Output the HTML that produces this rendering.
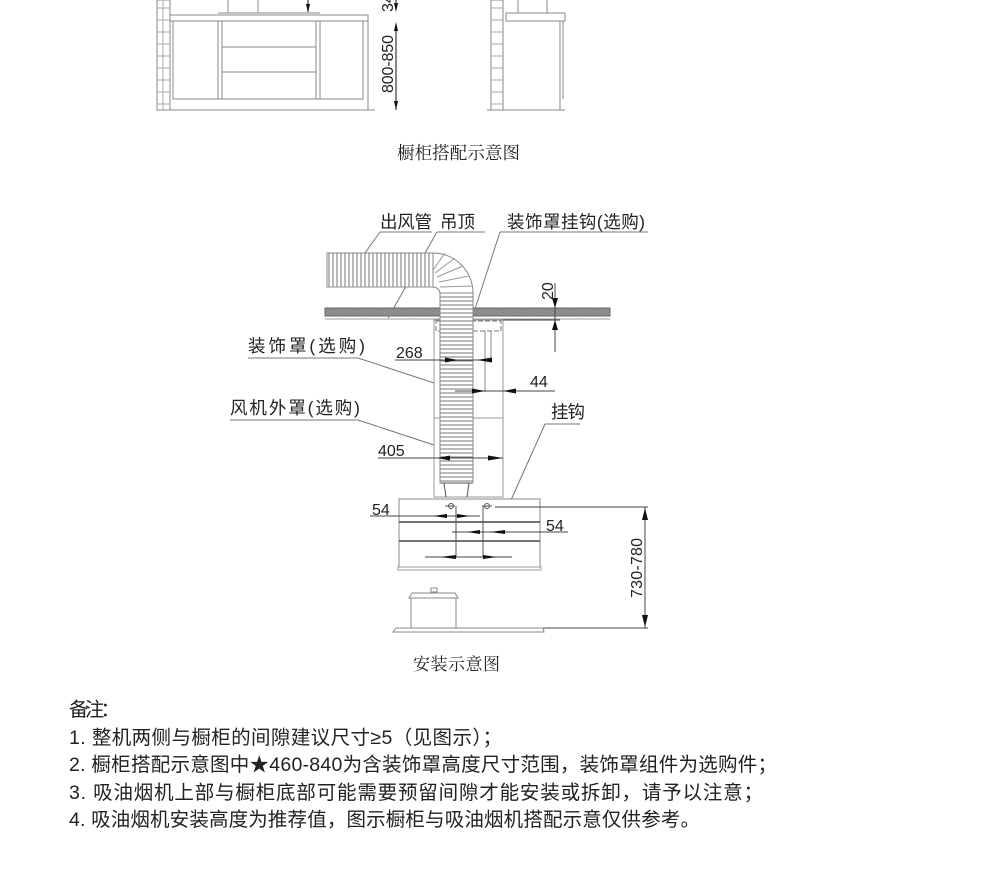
<!DOCTYPE html>
<html><head><meta charset="utf-8"><style>
html,body{margin:0;padding:0;background:#fff;}
svg{display:block;}
text{font-family:"Liberation Sans","Noto Sans CJK SC",sans-serif;fill:#222;}
.s{font-family:"Liberation Serif","Noto Serif CJK SC",serif;}
</style></head><body>
<svg width="1000" height="876" viewBox="0 0 1000 876" xmlns="http://www.w3.org/2000/svg">
<defs>
<pattern id="hv" width="4" height="40" patternUnits="userSpaceOnUse"><rect width="4" height="40" fill="#fff"/><line x1="1" y1="0" x2="1" y2="40" stroke="#777" stroke-width="1"/></pattern>
<pattern id="hh" width="40" height="4" patternUnits="userSpaceOnUse"><rect width="40" height="4" fill="#fff"/><line x1="0" y1="1" x2="40" y2="1" stroke="#777" stroke-width="1"/></pattern>
<pattern id="hatch" width="3" height="3" patternUnits="userSpaceOnUse"><rect width="3" height="3" fill="#999"/><line x1="0" y1="3" x2="3" y2="0" stroke="#666" stroke-width="0.6"/></pattern>
</defs>
<g fill="none" stroke="#888" stroke-width="1">
<rect x="157" y="0" width="13" height="110"/>
<g stroke="#aaa"><line x1="157" y1="8" x2="170" y2="8"/><line x1="157" y1="20" x2="170" y2="20"/><line x1="157" y1="32" x2="170" y2="32"/><line x1="157" y1="44" x2="170" y2="44"/><line x1="157" y1="56" x2="170" y2="56"/><line x1="157" y1="68" x2="170" y2="68"/><line x1="157" y1="80" x2="170" y2="80"/><line x1="157" y1="92" x2="170" y2="92"/><line x1="157" y1="104" x2="170" y2="104"/><line x1="163" y1="0" x2="163" y2="110"/></g>
<rect x="170" y="15" width="198" height="6"/>
<rect x="173" y="21" width="190" height="78"/>
<line x1="218" y1="21" x2="218" y2="99"/><line x1="222" y1="21" x2="222" y2="99"/>
<line x1="316" y1="21" x2="316" y2="99"/><line x1="320" y1="21" x2="320" y2="99"/>
<line x1="222" y1="47" x2="316" y2="47"/><line x1="222" y1="72" x2="316" y2="72"/>
<line x1="157" y1="110" x2="375" y2="110"/><line x1="368" y1="21" x2="368" y2="110"/>
<line x1="228" y1="0" x2="228" y2="13"/><line x1="258" y1="0" x2="258" y2="13"/>
<line x1="218" y1="13" x2="320" y2="13"/>
<rect x="491" y="0" width="12" height="110"/>
<g stroke="#aaa"><line x1="491" y1="8" x2="503" y2="8"/><line x1="491" y1="20" x2="503" y2="20"/><line x1="491" y1="32" x2="503" y2="32"/><line x1="491" y1="44" x2="503" y2="44"/><line x1="491" y1="56" x2="503" y2="56"/><line x1="491" y1="68" x2="503" y2="68"/><line x1="491" y1="80" x2="503" y2="80"/><line x1="491" y1="92" x2="503" y2="92"/><line x1="491" y1="104" x2="503" y2="104"/></g>
<line x1="518" y1="0" x2="518" y2="13"/><line x1="547" y1="0" x2="547" y2="13"/>
<rect x="506" y="13" width="59" height="8"/>
<line x1="560" y1="21" x2="560" y2="110"/><line x1="563" y1="21" x2="563" y2="99"/>
<line x1="487" y1="110" x2="565" y2="110"/>
</g>
<g stroke="#111" stroke-width="1">
<line x1="396" y1="0" x2="396" y2="10"/><line x1="396" y1="24" x2="396" y2="110"/>
<line x1="308" y1="0" x2="308" y2="12"/>
</g>
<g fill="#111">
<polygon points="396,12 394,3 398,3"/><polygon points="396,22 394,31 398,31"/><polygon points="396,110 394,101 398,101"/>
<polygon points="308,13 306,4 310,4"/>
</g>
<text font-size="16" transform="translate(393,93) rotate(-90)" textLength="58">800-850</text>
<text font-size="16" transform="translate(393,12) rotate(-90)">34</text>
<text x="397" y="159" font-size="17.5" class="s" textLength="123">橱柜搭配示意图</text>

<g stroke="#777" stroke-width="1" fill="none">
<line x1="380" y1="232" x2="432" y2="232"/><line x1="437" y1="232" x2="485" y2="232"/><line x1="500" y1="232" x2="648" y2="232"/>
<line x1="380" y1="232" x2="360" y2="260"/>
<line x1="437" y1="232" x2="388" y2="318"/>
<line x1="500" y1="232" x2="474" y2="312"/>
<line x1="248" y1="358" x2="358" y2="358"/><line x1="358" y1="358" x2="434" y2="383"/>
<line x1="230" y1="420" x2="358" y2="420"/><line x1="358" y1="420" x2="434" y2="445"/>
<line x1="545" y1="424" x2="580" y2="424"/><line x1="545" y1="424" x2="511" y2="500"/>
</g>
<rect x="327" y="253" width="106" height="34" fill="url(#hv)" stroke="#888"/>
<path d="M433,253 A40,40 0 0 1 473,293 L440,293 A7,7 0 0 0 433,287 Z" fill="#fff" stroke="#888"/>
<g stroke="#999"><line x1="433" y1="270" x2="445" y2="253"/><line x1="435" y1="273" x2="455" y2="258"/><line x1="437" y1="277" x2="463" y2="266"/><line x1="439" y1="282" x2="469" y2="276"/><line x1="440" y1="287" x2="472" y2="286"/></g>
<rect x="325" y="308" width="285" height="8" fill="url(#hatch)" stroke="#666"/>
<line x1="325" y1="319" x2="610" y2="319" stroke="#999"/>
<rect x="434" y="320" width="69" height="177" fill="#fff" stroke="#999"/>
<line x1="434" y1="418" x2="503" y2="418" stroke="#999"/>
<rect x="436" y="321" width="65" height="10" fill="none" stroke="#777" stroke-dasharray="5,2"/>
<line x1="485" y1="331" x2="485" y2="392" stroke="#888"/><line x1="491" y1="331" x2="491" y2="358" stroke="#888"/>
<rect x="440" y="293" width="33" height="190" fill="url(#hh)" stroke="#888"/>
<path d="M444,483 L446,497 M469,483 L467,497 M441,483 L472,483" stroke="#555" fill="none"/>
<g stroke="#444"><line x1="555" y1="283" x2="555" y2="352"/><line x1="503" y1="320" x2="560" y2="320"/></g>
<g fill="#111"><polygon points="555,308 552,298 558,298"/><polygon points="555,320 552,330 558,330"/></g>
<text font-size="16" transform="translate(553,300) rotate(-90)">20</text>
<line x1="395" y1="360" x2="492" y2="360" stroke="#444"/>
<g fill="#111"><polygon points="458,360 445,357.5 445,362.5"/><polygon points="477,360 492,357.5 492,362.5"/></g>
<text x="396" y="358" font-size="16">268</text>
<line x1="455" y1="391" x2="555" y2="391" stroke="#444"/>
<g fill="#111"><polygon points="485,391 472,388.5 472,393.5"/><polygon points="503,391 516,388.5 516,393.5"/></g>
<text x="530" y="387" font-size="16">44</text>
<line x1="378" y1="458" x2="503" y2="458" stroke="#444"/>
<g fill="#111"><polygon points="437,458 450,455.5 450,460.5"/><polygon points="503,458 488,455.5 488,460.5"/></g>
<text x="378" y="456" font-size="16">405</text>
<rect x="399" y="499" width="141" height="68" fill="#fff" stroke="#888"/>
<line x1="399" y1="522" x2="540" y2="522" stroke="#444" stroke-width="1.5"/>
<line x1="399" y1="541" x2="540" y2="541" stroke="#444" stroke-width="1.5"/>
<rect x="398" y="567" width="143" height="3" fill="none" stroke="#999"/>
<g stroke="#555" fill="none"><circle cx="451" cy="506" r="2.5"/><circle cx="487" cy="506" r="2.5"/>
<line x1="456" y1="506" x2="456" y2="557"/><line x1="483" y1="506" x2="483" y2="557"/>
<line x1="445" y1="506" x2="455" y2="506"/><line x1="482" y1="506" x2="492" y2="506"/></g>
<g stroke="#444"><line x1="370" y1="516" x2="480" y2="516"/><line x1="452" y1="532" x2="568" y2="532"/><line x1="425" y1="557" x2="512" y2="557"/>
<line x1="495" y1="507" x2="648" y2="507"/><line x1="400" y1="628" x2="648" y2="628"/><line x1="645" y1="507" x2="645" y2="628"/></g>
<g fill="#111">
<polygon points="433,516 447,514 447,518"/><polygon points="470,516 457,514 457,518"/>
<polygon points="467,532 480,530 480,534"/><polygon points="490,532 505,530 505,534"/>
<polygon points="440,557 456,555 456,559"/><polygon points="497,557 483,555 483,559"/>
<polygon points="645,508 642,520 648,520"/><polygon points="645,627 642,615 648,615"/>
</g>
<text x="372" y="515" font-size="16">54</text>
<text x="546" y="531" font-size="16">54</text>
<text font-size="16" transform="translate(642,598) rotate(-90)" textLength="60">730-780</text>
<g stroke="#888" fill="#fff"><rect x="411" y="598" width="45" height="30"/><path d="M409,598 L412,593 L455,593 L458,598 Z"/><rect x="431" y="588" width="6" height="4"/><path d="M393,632 L396,628 L543,628 L544,632 Z"/></g>
<text x="413" y="670" font-size="17" class="s" textLength="87">安装示意图</text>
<g font-size="17.5" class="s">
<text x="380" y="228" textLength="52">出风管</text><text x="440" y="228" textLength="35">吊顶</text>
<text x="507" y="228" textLength="138">装饰罩挂钩(选购)</text>
<text x="248" y="352" textLength="117">装饰罩(选购)</text>
<text x="230" y="414" textLength="130">风机外罩(选购)</text>
<text x="551" y="418" textLength="34">挂钩</text>
</g>
<g font-size="19.5">
<text x="69" y="716" textLength="51">备注：</text>
<text x="69" y="744" textLength="433">1. 整机两侧与橱柜的间隙建议尺寸≥5（见图示）；</text>
<text x="69" y="771" textLength="708">2. 橱柜搭配示意图中★460-840为含装饰罩高度尺寸范围，装饰罩组件为选购件；</text>
<text x="69" y="799" textLength="694">3. 吸油烟机上部与橱柜底部可能需要预留间隙才能安装或拆卸，请予以注意；</text>
<text x="69" y="826" textLength="631">4. 吸油烟机安装高度为推荐值，图示橱柜与吸油烟机搭配示意仅供参考。</text>
</g>
</svg>
</body></html>
